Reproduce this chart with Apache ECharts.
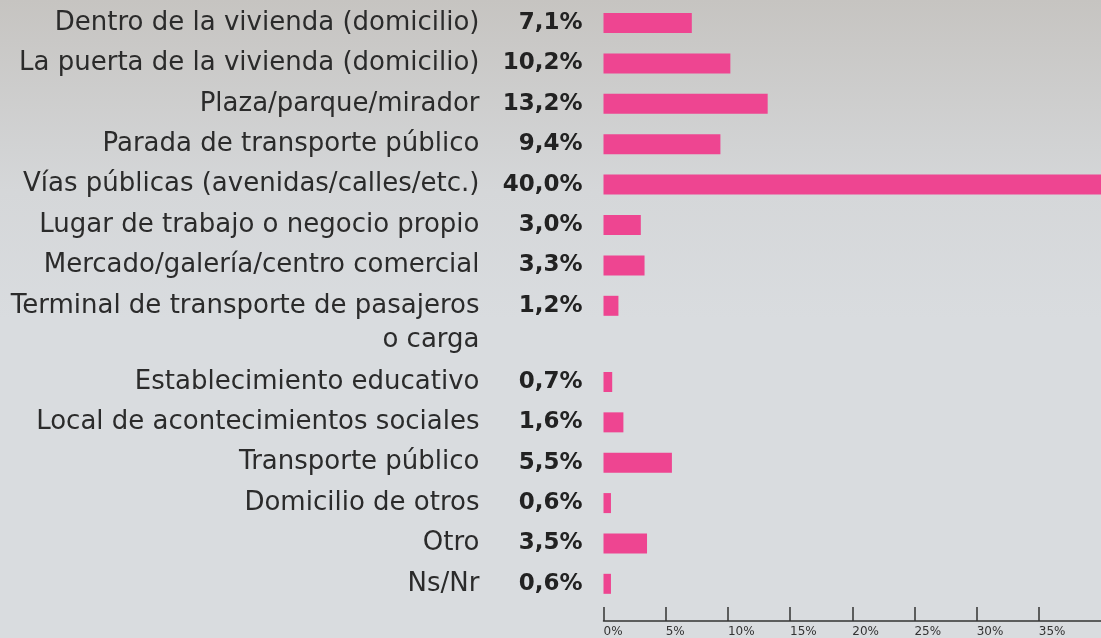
<!DOCTYPE html>
<html>
<head>
<meta charset="utf-8">
<script src="https://cdn.jsdelivr.net/npm/echarts@6/dist/echarts.min.js"></script>
<style>
  html, body { margin: 0; padding: 0; }
  #chart { width: 1101px; height: 638px; }
</style>
</head>
<body>
<div id="chart"></div>
<script>
// lugares, en el orden de la figura
var categories = [
  'Dentro de la vivienda (domicilio)',
  'La puerta de la vivienda (domicilio)',
  'Plaza/parque/mirador',
  'Parada de transporte público',
  'Vías públicas (avenidas/calles/etc.)',
  'Lugar de trabajo o negocio propio',
  'Mercado/galería/centro comercial',
  'Terminal de transporte de pasajeros\no carga',
  'Establecimiento educativo',
  'Local de acontecimientos sociales',
  'Transporte público',
  'Domicilio de otros',
  'Otro',
  'Ns/Nr'
];
var values = [7.1, 10.2, 13.2, 9.4, 40.0, 3.0, 3.3, 1.2, 0.7, 1.6, 5.5, 0.6, 3.5, 0.6];
var xTicks = [0, 5, 10, 15, 20, 25, 30, 35];
// la fila de dos lineas deja un hueco: dos bloques
var splitAt = 8;

var font = 'DejaVu Sans';
var pink = '#ee4591';
var ink = '#2b2b2b';

function pct(v) {
  return v.toFixed(1).replace('.', ',') + '%';
}

function yAxisFor(idx, cats) {
  return {
    type: 'category',
    gridIndex: idx,
    inverse: true,
    data: cats,
    axisLine: { show: false },
    axisTick: { show: false },
    axisLabel: {
      interval: 0,
      hideOverlap: false,
      margin: 124,
      fontFamily: font,
      fontSize: 26,
      lineHeight: 34,
      color: ink,
      formatter: function (v) {
        // primera linea alineada con la barra
        return v.indexOf('\n') >= 0 ? '\n' + v : v;
      }
    }
  };
}

function xAxisFor(idx, visible) {
  return {
    type: 'value',
    gridIndex: idx,
    min: xTicks[0],
    max: 40,
    interval: xTicks[1] - xTicks[0],
    show: visible,
    offset: 17,
    splitLine: { show: false },
    axisLine: { show: true, lineStyle: { color: '#333', width: 1.5 } },
    axisTick: { show: true, inside: true, length: 14, lineStyle: { color: '#333', width: 1.5 } },
    axisLabel: {
      showMaxLabel: false,
      margin: 5,
      align: 'left',
      fontFamily: font,
      fontSize: 12,
      color: '#333',
      formatter: function (v) { return v + '%'; }
    }
  };
}

function seriesFor(idx, vals) {
  return {
    type: 'bar',
    xAxisIndex: idx,
    yAxisIndex: idx,
    data: vals,
    barWidth: 20,
    itemStyle: { color: pink },
    label: {
      show: true,
      position: 'left',
      distance: 21,
      fontFamily: font,
      fontSize: 23,
      fontWeight: 'bold',
      color: '#222',
      formatter: function (p) { return pct(p.value); }
    }
  };
}

var chart = echarts.init(document.getElementById('chart'));
chart.setOption({
  animation: false,
  backgroundColor: {
    type: 'linear', x: 0, y: 0, x2: 0, y2: 1,
    colorStops: [
      { offset: 0, color: '#c6c4c1' },
      { offset: 0.3, color: '#d5d7d9' },
      { offset: 0.5, color: '#d9dcdf' },
      { offset: 1, color: '#d9dcdf' }
    ]
  },
  grid: [
    { left: 603.5, width: 500, top: 2.8, height: 323.2 },
    { left: 603.5, width: 500, top: 361.8, height: 242.4 }
  ],
  xAxis: [xAxisFor(0, false), xAxisFor(1, true)],
  yAxis: [
    yAxisFor(0, categories.slice(0, splitAt)),
    yAxisFor(1, categories.slice(splitAt))
  ],
  series: [
    seriesFor(0, values.slice(0, splitAt)),
    seriesFor(1, values.slice(splitAt))
  ]
});
</script>
</body>
</html>
